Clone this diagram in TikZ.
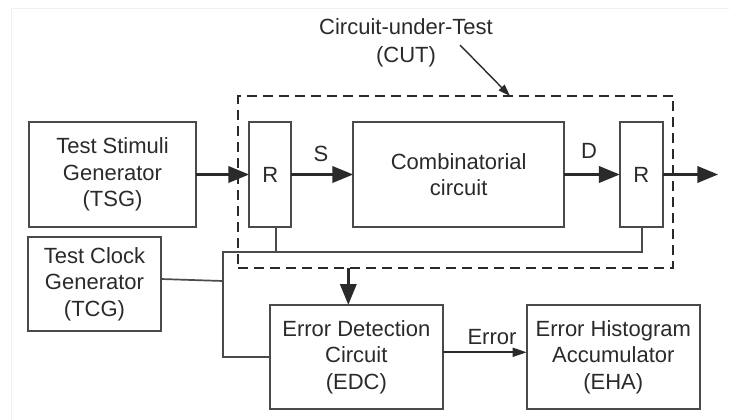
\documentclass[tikz,border=0pt]{standalone}
\usepackage{fontspec}
\setmainfont{Liberation Sans}
\usetikzlibrary{arrows.meta}
\definecolor{ink}{HTML}{2A2A2A}
\definecolor{edge}{HTML}{4A4A4A}
\tikzset{
  blk/.style={draw=edge, line width=1.9pt, rectangle, inner sep=0pt, outer sep=0pt,
    align=center, text=ink, font=\fontsize{22}{26.5}\selectfont},
  lbl/.style={text=ink, inner sep=0pt, font=\fontsize{22}{26.5}\selectfont, align=center},
  bus/.style={-{Triangle[length=21pt,width=16pt]}, draw=ink, line width=3.6pt},
  thin/.style={draw=edge, line width=1.7pt},
  thinarrow/.style={-{Triangle[length=14pt,width=9pt]}, draw=ink, line width=1.7pt},
}
\begin{document}
\begin{tikzpicture}[x=1pt,y=-1pt]
\useasboundingbox (0,0) rectangle (729,420);
\draw[gray!12, line width=1pt] (11,420) -- (11,9) -- (729,9);

% CUT dashed frame
\node[draw=ink, dash pattern=on 10pt off 6pt, line width=2.2pt, rectangle, inner sep=0pt, outer sep=0pt,
  minimum width=435pt, minimum height=172.3pt] (cut) at (455.8,182.2) {};

\node[lbl] (cutlbl) at (406,43) {Circuit-under-Test\\[2pt](CUT)};
\coordinate (cutfrom) at (460,45);
\coordinate (cutto) at (510,96);
\draw[-{Triangle[length=12pt,width=8pt]}, draw=ink, line width=1.4pt] (cutfrom) -- (cutto);

% blocks
\node[blk, minimum width=167pt, minimum height=105pt] (tsg) at (112.5,174.5) {Test Stimuli\\Generator\\(TSG)};
\node[blk, minimum width=42pt, minimum height=104.4pt] (r1) at (270.3,174.5) {R};
\node[blk, minimum width=210.7pt, minimum height=104.4pt] (comb) at (458.7,174.5) {Combinatorial\\circuit};
\node[blk, minimum width=42.7pt, minimum height=104.4pt] (r2) at (641.3,174.5) {R};
\node[blk, minimum width=132.4pt, minimum height=93.4pt] (tcg) at (94.5,284) {Test Clock\\Generator\\(TCG)};
\node[blk, minimum width=172.7pt, minimum height=104pt] (edc) at (356.3,357) {Error Detection\\Circuit\\(EDC)};
\node[blk, minimum width=173.3pt, minimum height=104pt] (eha) at (613.3,357) {Error Histogram\\Accumulator\\(EHA)};

% labels
\node[lbl] (slbl) at (321,154) {S};
\node[lbl] (dlbl) at (589,151) {D};
\node[lbl] (errlbl) at (492,337) {Error};

% data path
\draw[bus] (tsg.east) -- (r1.west);
\draw[bus] (r1.east) -- (comb.west);
\draw[bus] (comb.east) -- (r2.west);
\coordinate (outend) at (718.3,174.5);
\draw[bus] (r2.east) -- (outend);
\draw[bus] (cut.south -| 348.3,0) -- (edc.north -| 348.3,0);
\draw[thinarrow] (edc.east |- 0,352.3) -- (eha.west |- 0,352.3);

% clock distribution
\coordinate (clkL) at (222.7,252.3);
\coordinate (clkB) at (222.7,356.7);
\draw[thin] (r1.south -| 275.7,0) -- (275.7,252.3);
\draw[thin] (r2.south -| 641.7,0) -- (641.7,252.3) -- (clkL) -- (clkB) -- (edc.west |- clkB);
\draw[thin] (tcg.east |- 0,279) -- (222.7,281);
\end{tikzpicture}
\end{document}
